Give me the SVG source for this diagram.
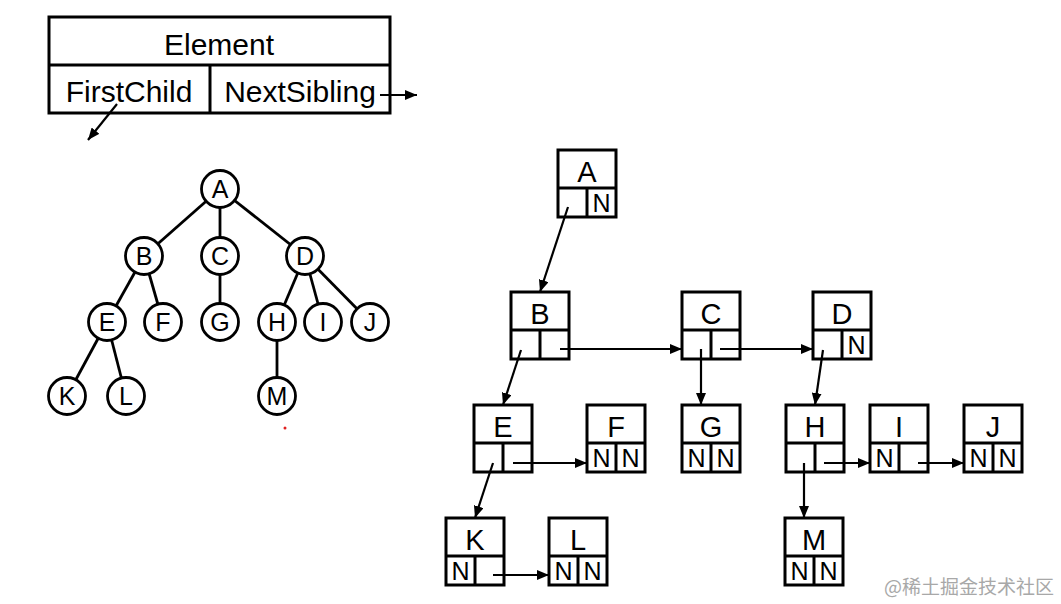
<svg xmlns="http://www.w3.org/2000/svg" width="1061" height="604" viewBox="0 0 1061 604">
<style>
.s{fill:none;stroke:#000;stroke-width:3}
.w{fill:#fff;stroke:#000;stroke-width:2.8}
.t{font-family:"Liberation Sans",Arial,sans-serif;fill:#000;text-anchor:middle}
.h{font-size:30px}
.c{font-size:25px}
.b{font-size:29px}
.n{font-size:25px}
.e{stroke:#000;stroke-width:2.8}
.a{stroke:#000;stroke-width:2.2;fill:none;marker-end:url(#ar)}
</style>
<defs>
<marker id="ar" markerUnits="userSpaceOnUse" markerWidth="12" markerHeight="10" refX="12" refY="5" orient="auto">
<path d="M0,0 L12,5 L0,10 z" fill="#000"/>
</marker>
</defs>
<rect width="1061" height="604" fill="#fff"/>

<g id="element-legend">
<rect class="s" x="49" y="17" width="341" height="96"/>
<line class="s" x1="49" y1="65" x2="390" y2="65"/>
<line class="s" x1="210" y1="65" x2="210" y2="113"/>
<text class="t h" x="219" y="55">Element</text>
<text class="t h" x="129" y="102">FirstChild</text>
<text class="t h" x="300" y="102">NextSibling</text>
</g>

<g id="tree-edges">
<line class="e" x1="220" y1="189" x2="144" y2="256"/>
<line class="e" x1="220" y1="189" x2="220" y2="256"/>
<line class="e" x1="220" y1="189" x2="305" y2="256"/>
<line class="e" x1="144" y1="256" x2="107" y2="322"/>
<line class="e" x1="144" y1="256" x2="163" y2="322"/>
<line class="e" x1="220" y1="256" x2="220" y2="322"/>
<line class="e" x1="305" y1="256" x2="277" y2="322"/>
<line class="e" x1="305" y1="256" x2="323" y2="322"/>
<line class="e" x1="305" y1="256" x2="370" y2="322"/>
<line class="e" x1="107" y1="322" x2="67" y2="396"/>
<line class="e" x1="107" y1="322" x2="126" y2="396"/>
<line class="e" x1="277" y1="322" x2="277" y2="396"/>
</g>

<g id="tree-A"><circle class="w" cx="220" cy="189" r="18.5"/><text class="t c" x="220" y="198">A</text></g>
<g id="tree-B"><circle class="w" cx="144" cy="256" r="18.5"/><text class="t c" x="144" y="265">B</text></g>
<g id="tree-C"><circle class="w" cx="220" cy="256" r="18.5"/><text class="t c" x="220" y="265">C</text></g>
<g id="tree-D"><circle class="w" cx="305" cy="256" r="18.5"/><text class="t c" x="305" y="265">D</text></g>
<g id="tree-E"><circle class="w" cx="107" cy="322" r="18.5"/><text class="t c" x="107" y="331">E</text></g>
<g id="tree-F"><circle class="w" cx="163" cy="322" r="18.5"/><text class="t c" x="163" y="331">F</text></g>
<g id="tree-G"><circle class="w" cx="220" cy="322" r="18.5"/><text class="t c" x="220" y="331">G</text></g>
<g id="tree-H"><circle class="w" cx="277" cy="322" r="18.5"/><text class="t c" x="277" y="331">H</text></g>
<g id="tree-I"><circle class="w" cx="323" cy="322" r="18.5"/><text class="t c" x="323" y="331">I</text></g>
<g id="tree-J"><circle class="w" cx="370" cy="322" r="18.5"/><text class="t c" x="370" y="331">J</text></g>
<g id="tree-K"><circle class="w" cx="67" cy="396" r="18.5"/><text class="t c" x="67" y="405">K</text></g>
<g id="tree-L"><circle class="w" cx="126" cy="396" r="18.5"/><text class="t c" x="126" y="405">L</text></g>
<g id="tree-M"><circle class="w" cx="277" cy="396" r="18.5"/><text class="t c" x="277" y="405">M</text></g>

<circle cx="285" cy="428" r="1.5" fill="#e02020"/>

<g id="box-A"><rect class="s" x="558" y="150" width="58" height="67"/><line class="s" x1="558" y1="188" x2="616" y2="188"/><line class="s" x1="587" y1="188" x2="587" y2="217"/><text class="t b" x="587" y="182">A</text><text class="t n" x="601.5" y="212">N</text></g>
<g id="box-B"><rect class="s" x="511" y="292" width="58" height="67"/><line class="s" x1="511" y1="330" x2="569" y2="330"/><line class="s" x1="540" y1="330" x2="540" y2="359"/><text class="t b" x="540" y="324">B</text></g>
<g id="box-C"><rect class="s" x="682" y="292" width="58" height="67"/><line class="s" x1="682" y1="330" x2="740" y2="330"/><line class="s" x1="711" y1="330" x2="711" y2="359"/><text class="t b" x="711" y="324">C</text></g>
<g id="box-D"><rect class="s" x="813" y="292" width="58" height="67"/><line class="s" x1="813" y1="330" x2="871" y2="330"/><line class="s" x1="842" y1="330" x2="842" y2="359"/><text class="t b" x="842" y="324">D</text><text class="t n" x="856.5" y="354">N</text></g>
<g id="box-E"><rect class="s" x="474" y="405" width="58" height="67"/><line class="s" x1="474" y1="443" x2="532" y2="443"/><line class="s" x1="503" y1="443" x2="503" y2="472"/><text class="t b" x="503" y="437">E</text></g>
<g id="box-F"><rect class="s" x="587" y="405" width="58" height="67"/><line class="s" x1="587" y1="443" x2="645" y2="443"/><line class="s" x1="616" y1="443" x2="616" y2="472"/><text class="t b" x="616" y="437">F</text><text class="t n" x="601.5" y="467">N</text><text class="t n" x="630.5" y="467">N</text></g>
<g id="box-G"><rect class="s" x="682" y="405" width="58" height="67"/><line class="s" x1="682" y1="443" x2="740" y2="443"/><line class="s" x1="711" y1="443" x2="711" y2="472"/><text class="t b" x="711" y="437">G</text><text class="t n" x="696.5" y="467">N</text><text class="t n" x="725.5" y="467">N</text></g>
<g id="box-H"><rect class="s" x="786" y="405" width="58" height="67"/><line class="s" x1="786" y1="443" x2="844" y2="443"/><line class="s" x1="815" y1="443" x2="815" y2="472"/><text class="t b" x="815" y="437">H</text></g>
<g id="box-I"><rect class="s" x="870" y="405" width="58" height="67"/><line class="s" x1="870" y1="443" x2="928" y2="443"/><line class="s" x1="899" y1="443" x2="899" y2="472"/><text class="t b" x="899" y="437">I</text><text class="t n" x="884.5" y="467">N</text></g>
<g id="box-J"><rect class="s" x="964" y="405" width="58" height="67"/><line class="s" x1="964" y1="443" x2="1022" y2="443"/><line class="s" x1="993" y1="443" x2="993" y2="472"/><text class="t b" x="993" y="437">J</text><text class="t n" x="978.5" y="467">N</text><text class="t n" x="1007.5" y="467">N</text></g>
<g id="box-K"><rect class="s" x="446" y="518" width="58" height="67"/><line class="s" x1="446" y1="556" x2="504" y2="556"/><line class="s" x1="475" y1="556" x2="475" y2="585"/><text class="t b" x="475" y="550">K</text><text class="t n" x="460.5" y="580">N</text></g>
<g id="box-L"><rect class="s" x="549" y="518" width="58" height="67"/><line class="s" x1="549" y1="556" x2="607" y2="556"/><line class="s" x1="578" y1="556" x2="578" y2="585"/><text class="t b" x="578" y="550">L</text><text class="t n" x="563.5" y="580">N</text><text class="t n" x="592.5" y="580">N</text></g>
<g id="box-M"><rect class="s" x="785" y="518" width="58" height="67"/><line class="s" x1="785" y1="556" x2="843" y2="556"/><line class="s" x1="814" y1="556" x2="814" y2="585"/><text class="t b" x="814" y="550">M</text><text class="t n" x="799.5" y="580">N</text><text class="t n" x="828.5" y="580">N</text></g>

<g id="connectors">
<line class="a" x1="380" y1="95" x2="417" y2="95"/>
<line class="a" x1="117" y1="104" x2="88" y2="140"/>
<line class="a" x1="568" y1="207" x2="540" y2="292"/>
<line class="a" x1="560" y1="349" x2="682" y2="349"/>
<line class="a" x1="720" y1="349" x2="813" y2="349"/>
<line class="a" x1="701" y1="349" x2="701" y2="405"/>
<line class="a" x1="823" y1="350" x2="815" y2="405"/>
<line class="a" x1="521" y1="350" x2="503" y2="405"/>
<line class="a" x1="513" y1="463" x2="587" y2="463"/>
<line class="a" x1="493" y1="463" x2="475" y2="518"/>
<line class="a" x1="804" y1="463" x2="804" y2="518"/>
<line class="a" x1="824" y1="463" x2="870" y2="463"/>
<line class="a" x1="918" y1="463" x2="964" y2="463"/>
<line class="a" x1="493" y1="575" x2="549" y2="575"/>
</g>

<text x="1054" y="594" text-anchor="end" style="font-family:'Noto Sans CJK SC','Liberation Sans',sans-serif;font-size:19px;fill:#a8a8a8">@稀土掘金技术社区</text>
</svg>
